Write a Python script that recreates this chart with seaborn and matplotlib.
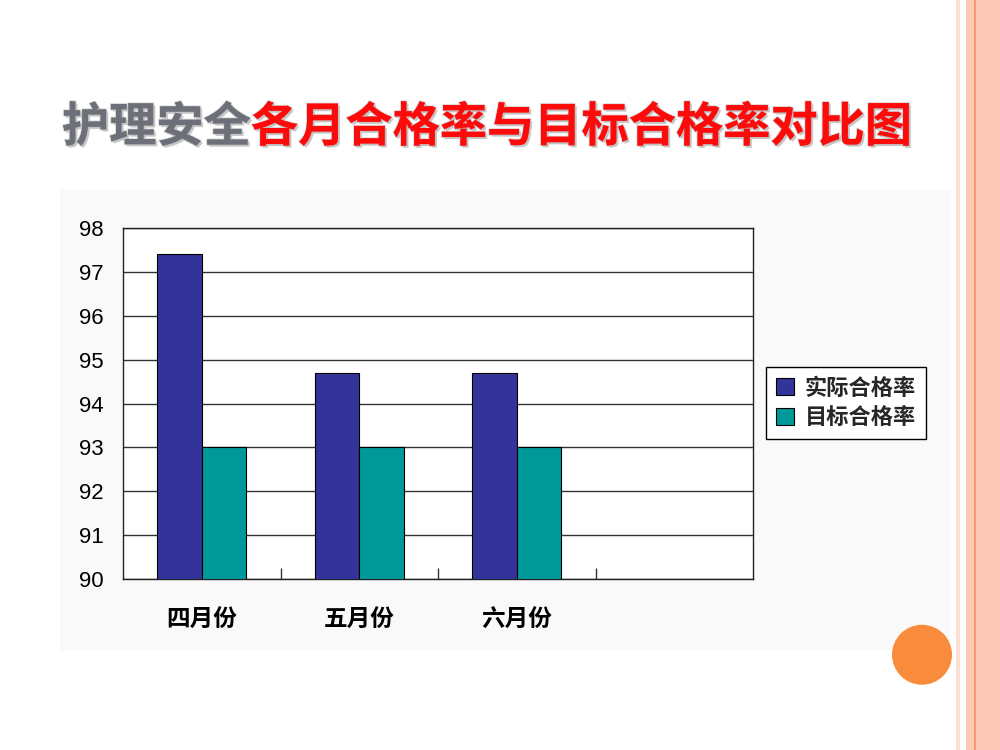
import pandas as pd
import matplotlib.pyplot as plt
import matplotlib.patheffects as pe
from matplotlib.patches import Rectangle, Ellipse
import seaborn as sns

months = ['四月份', '五月份', '六月份']
series_names = ['实际合格率', '目标合格率']
actual_rate = [97.4, 94.7, 94.7]
target_rate = [93, 93, 93]
y_ticks = [90, 91, 92, 93, 94, 95, 96, 97, 98]

df = pd.DataFrame({
    'month': months * 2,
    'series': [series_names[0]] * 3 + [series_names[1]] * 3,
    'value': actual_rate + target_rate,
})

sns.set_theme(style='white')
plt.rcParams['font.family'] = ['Noto Sans CJK SC', 'DejaVu Sans']

fig = plt.figure(figsize=(10, 7.5), dpi=100)
fig.patch.set_facecolor('white')

# slide decoration: faint chart backdrop, stripes on the right, orange dot
fig.patches.append(Rectangle((0.06, 0.133), 0.89, 0.614, transform=fig.transFigure,
                             facecolor='#f9f9f9', edgecolor='none', zorder=0))
stripes = [(0.956, 0.004, '#fde0d4'), (0.966, 0.008, '#fbc9b5'),
           (0.974, 0.002, '#f79a6a'), (0.976, 0.024, '#fbc9b5')]
for x0, w, c in stripes:
    fig.patches.append(Rectangle((x0, 0), w, 1, transform=fig.transFigure,
                                 facecolor=c, edgecolor='none', zorder=0))
fig.patches.append(Ellipse((0.922, 0.127), 0.060, 0.080, transform=fig.transFigure,
                           facecolor='#f98b3c', edgecolor='none', zorder=1))

ax = fig.add_axes([0.123, 0.228, 0.630, 0.468])
ax.set_zorder(2)
ax.set_facecolor('white')

sns.barplot(data=df, x='month', y='value', hue='series', order=months,
            hue_order=series_names,
            palette={'实际合格率': '#333399', '目标合格率': '#009999'},
            width=0.565, edgecolor='black', linewidth=0.8, saturation=1,
            ax=ax, legend=True, zorder=3)

ax.set_xlim(-0.5, 3.5)
ax.set_ylim(90, 98)
ax.set_yticks(y_ticks)
ax.set_yticklabels([str(v) for v in y_ticks], family='Liberation Sans', fontsize=16,
                   color='black')
ax.yaxis.grid(True, color='#333333', linewidth=1, zorder=0)
ax.set_axisbelow(True)
ax.set_xlabel('')
ax.set_ylabel('')
ax.tick_params(axis='y', length=0, pad=14)

ax.set_xticks([0, 1, 2])
ax.set_xticklabels(months, fontsize=17, fontweight='bold', color='black')
ax.tick_params(axis='x', which='major', length=0, pad=21)
ax.set_xticks([0.5, 1.5, 2.5], minor=True)
ax.tick_params(axis='x', which='minor', bottom=True, direction='in', length=8,
               color='#333333', width=1)

for s in ax.spines.values():
    s.set_visible(True)
    s.set_color('#222222')
    s.set_linewidth(1)

handles, labels = ax.get_legend_handles_labels()
ax.get_legend().remove()
leg = fig.legend(handles, labels, loc='center left', bbox_to_anchor=(0.766, 0.4627),
                 borderaxespad=0,
                 frameon=True, fancybox=False, edgecolor='black', framealpha=1,
                 handlelength=0.8, handleheight=0.8, handletextpad=0.5,
                 borderpad=0.45, labelspacing=0.3,
                 prop={'size': 16, 'weight': 'bold',
                       'family': ['Noto Sans CJK SC', 'DejaVu Sans']})
leg.set_zorder(3)

# two-colour title
effects = [pe.withStroke(linewidth=1.5, foreground='#d9d9d9'),
           pe.SimplePatchShadow(offset=(1.5, -1.5), shadow_rgbFace='#bbbbbb', alpha=0.8),
           pe.Normal()]
t1 = fig.text(0.062, 0.83, '护理安全', fontsize=34, color='#6d7078',
              fontweight='bold', va='center', ha='left', path_effects=effects)
ax.annotate('各月合格率与目标合格率对比图', xy=(1, 0.5), xycoords=t1,
            fontsize=34, color='#ff0a0a', fontweight='bold', va='center', ha='left',
            annotation_clip=False, path_effects=effects)

fig.savefig('out.png', dpi=100)
